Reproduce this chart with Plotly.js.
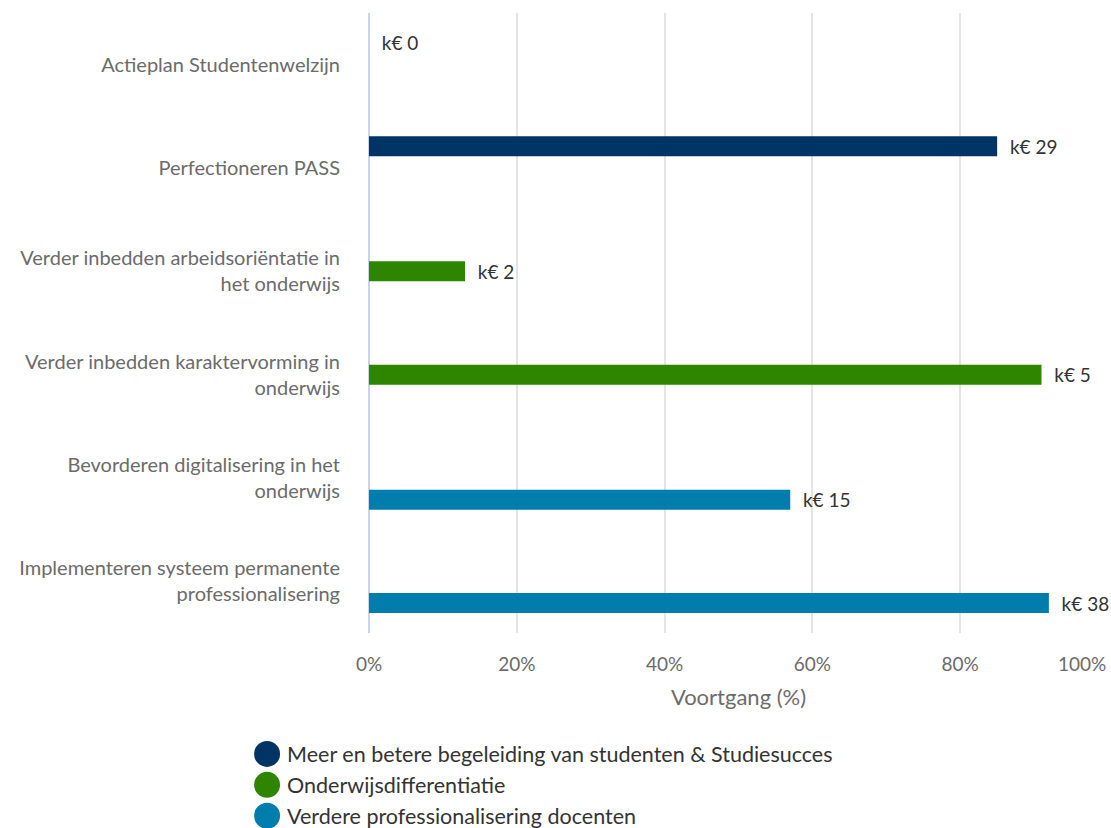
<!DOCTYPE html>
<html>
<head>
<meta charset="utf-8">
<script src="https://cdn.plot.ly/plotly-3.0.1.min.js"></script>
<style>html,body{margin:0;padding:0;background:#fff;}#chart{width:1111px;height:828px;}</style>
</head>
<body>
<div id="chart"></div>
<script>
// ---- data ----
const categories = [
  "Actieplan Studentenwelzijn",
  "Perfectioneren PASS",
  "Verder inbedden arbeidsoriëntatie in<br>het onderwijs",
  "Verder inbedden karaktervorming in<br>onderwijs",
  "Bevorderen digitalisering in het<br>onderwijs",
  "Implementeren systeem permanente<br>professionalisering"
];
const progress = [0, 85, 13, 91, 57, 92];      // Voortgang (%)
const budgetK = [0, 29, 2, 5, 15, 38];         // k€
const seriesIndex = [0, 0, 1, 1, 2, 2];        // programme per category
const seriesNames = [
  "Meer en betere begeleiding van studenten & Studiesucces",
  "Onderwijsdifferentiatie",
  "Verdere professionalisering docenten"
];
const seriesColors = ["#003464", "#2e8500", "#007cad"];
const tickValues = [0, 20, 40, 60, 80, 100];

// ---- traces ----
const BAR_W = 0.194, SLOT = 0.21;
const traces = [];
seriesNames.forEach((name, s) => {
  const x = [], y = [], cd = [];
  categories.forEach((c, i) => {
    if (seriesIndex[i] === s) { x.push(progress[i]); y.push(c); cd.push(budgetK[i]); }
  });
  traces.push({
    type: "bar", orientation: "h", name: name, x: x, y: y, customdata: cd,
    width: BAR_W, offset: (s - 1) * SLOT - BAR_W / 2,
    marker: {color: seriesColors[s]},
    texttemplate: "\u00a0\u00a0k€ %{customdata}", textposition: "outside", cliponaxis: false,
    constraintext: "none",
    textfont: {family: "Lato, sans-serif", size: 19, color: "#333333"},
    showlegend: false, hoverinfo: "skip"
  });
});
seriesNames.forEach((name, s) => {
  traces.push({
    type: "scatter", mode: "markers", name: name, x: [null], y: [null],
    marker: {color: seriesColors[s], size: 16, symbol: "circle"},
    showlegend: true, hoverinfo: "skip"
  });
});

const lastTick = tickValues[tickValues.length - 1];
const tickText = tickValues.map(v => v === lastTick ? "" : v + "%");

const layout = {
  width: 1111, height: 828,
  margin: {l: 369, r: 3, t: 13, b: 195, autoexpand: false},
  paper_bgcolor: "#ffffff", plot_bgcolor: "#ffffff",
  font: {family: "Lato, sans-serif", color: "#666666", size: 18},
  barmode: "overlay",
  xaxis: {
    range: [0, 100], tickvals: tickValues, ticktext: tickText,
    showgrid: true, gridcolor: "#e4e4e4", gridwidth: 2,
    zeroline: true, zerolinecolor: "#c9d4e8", zerolinewidth: 2,
    showline: false, ticks: "", automargin: false,
    ticklabeloverflow: "allow", ticklabelstandoff: 18,
    tickfont: {size: 19, color: "#6b6b6b"},
    title: {text: "Voortgang (%)", font: {size: 22, color: "#6b6b6b"}, standoff: 15},
    fixedrange: true
  },
  yaxis: {
    type: "category", categoryorder: "array", categoryarray: categories,
    range: [categories.length - 0.5, -0.5], showgrid: false, zeroline: false, ticks: "",
    ticklabelstandoff: 28,
    tickfont: {size: 20, color: "#6b6b6b"}, automargin: false, fixedrange: true
  },
  annotations: [{
    xref: "x", x: lastTick, xanchor: "right", yref: "paper", y: 0, yanchor: "top",
    yshift: -17, showarrow: false, text: lastTick + "%",
    font: {size: 19, color: "#6b6b6b", family: "Lato, sans-serif"}
  }],
  showlegend: true,
  legend: {
    orientation: "v", x: -0.165, xanchor: "left", y: -0.162, yanchor: "top",
    font: {size: 21.5, color: "#333333"}, bgcolor: "rgba(0,0,0,0)", itemwidth: 30,
    tracegroupgap: 0
  }
};

const gd = document.getElementById("chart");
function bigLegendDots() {
  gd.querySelectorAll(".legend .legendpoints path").forEach(p => {
    p.setAttribute("d", "M13,0A13,13 0 1,1 0,-13A13,13 0 0,1 13,0Z");
  });
}
gd.addEventListener && null;
Plotly.newPlot(gd, traces, layout, {displayModeBar: false, staticPlot: true}).then(() => {
  bigLegendDots();
  gd.on("plotly_afterplot", bigLegendDots);
  setTimeout(bigLegendDots, 0);
  setTimeout(bigLegendDots, 200);
});
</script>
</body>
</html>
